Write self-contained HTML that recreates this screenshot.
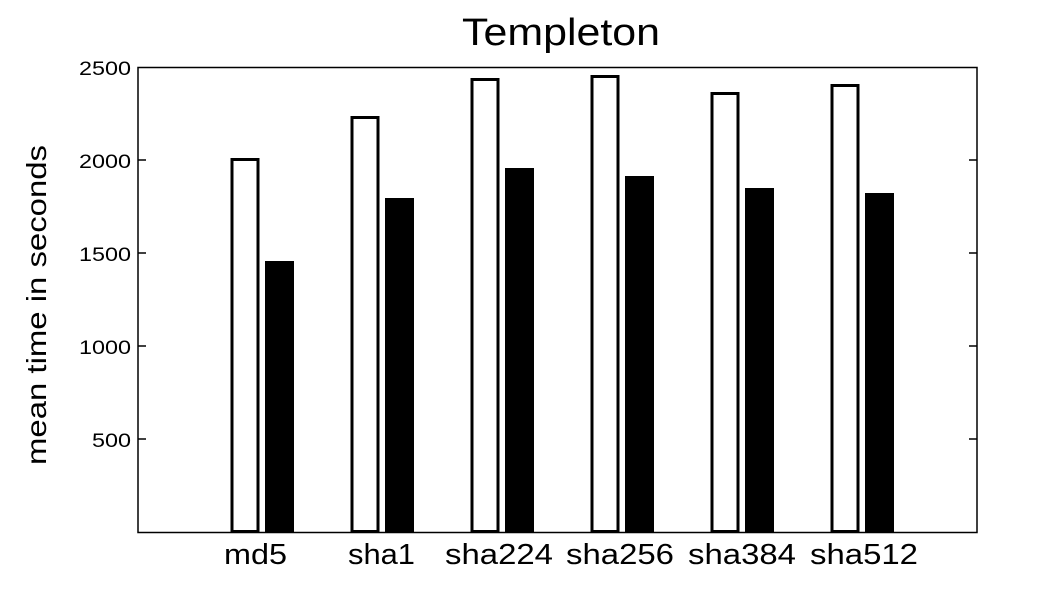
<!DOCTYPE html>
<html><head><style>body{margin:0;background:#fff}</style></head><body>
<svg width="1057" height="596" xmlns="http://www.w3.org/2000/svg" font-family="Liberation Sans, sans-serif">
<rect width="1057" height="596" fill="#fff"/>
<text x="462" y="45" font-size="38" textLength="198" lengthAdjust="spacingAndGlyphs">Templeton</text>
<text transform="translate(46,305) rotate(-90)" font-size="28" text-anchor="middle" textLength="320" lengthAdjust="spacingAndGlyphs">mean time in seconds</text>
<g stroke="#000" stroke-width="1.5">
<line x1="138" y1="439" x2="146" y2="439"/><line x1="969" y1="439" x2="977" y2="439"/>
<line x1="138" y1="346" x2="146" y2="346"/><line x1="969" y1="346" x2="977" y2="346"/>
<line x1="138" y1="253" x2="146" y2="253"/><line x1="969" y1="253" x2="977" y2="253"/>
<line x1="138" y1="160" x2="146" y2="160"/><line x1="969" y1="160" x2="977" y2="160"/>
</g>
<g font-size="19">
<text x="92" y="447" textLength="39" lengthAdjust="spacingAndGlyphs">500</text>
<text x="79" y="354" textLength="52" lengthAdjust="spacingAndGlyphs">1000</text>
<text x="79" y="261" textLength="52" lengthAdjust="spacingAndGlyphs">1500</text>
<text x="79" y="168" textLength="52" lengthAdjust="spacingAndGlyphs">2000</text>
<text x="79" y="75" textLength="52" lengthAdjust="spacingAndGlyphs">2500</text>
</g>
<g fill="#fff" stroke="#000" stroke-width="3">
<rect x="232" y="159.5" width="26" height="372"/>
<rect x="352" y="117.5" width="26" height="414"/>
<rect x="472" y="79.5" width="26" height="452"/>
<rect x="592" y="76.5" width="26" height="455"/>
<rect x="712" y="93.5" width="26" height="438"/>
<rect x="832" y="85.5" width="26" height="446"/>
</g>
<g fill="#000">
<rect x="265" y="261" width="29" height="272"/>
<rect x="385" y="198" width="29" height="335"/>
<rect x="505" y="168" width="29" height="365"/>
<rect x="625" y="176" width="29" height="357"/>
<rect x="745" y="188" width="29" height="345"/>
<rect x="865" y="193" width="29" height="340"/>
</g>
<rect x="138" y="67.5" width="839" height="465" fill="none" stroke="#000" stroke-width="1.5"/>
<g font-size="29">
<text x="224" y="564" textLength="63" lengthAdjust="spacingAndGlyphs">md5</text>
<text x="348" y="564" textLength="67" lengthAdjust="spacingAndGlyphs">sha1</text>
<text x="445" y="564" textLength="108" lengthAdjust="spacingAndGlyphs">sha224</text>
<text x="566" y="564" textLength="108" lengthAdjust="spacingAndGlyphs">sha256</text>
<text x="688" y="564" textLength="108" lengthAdjust="spacingAndGlyphs">sha384</text>
<text x="810" y="564" textLength="108" lengthAdjust="spacingAndGlyphs">sha512</text>
</g>
</svg>
</body></html>
